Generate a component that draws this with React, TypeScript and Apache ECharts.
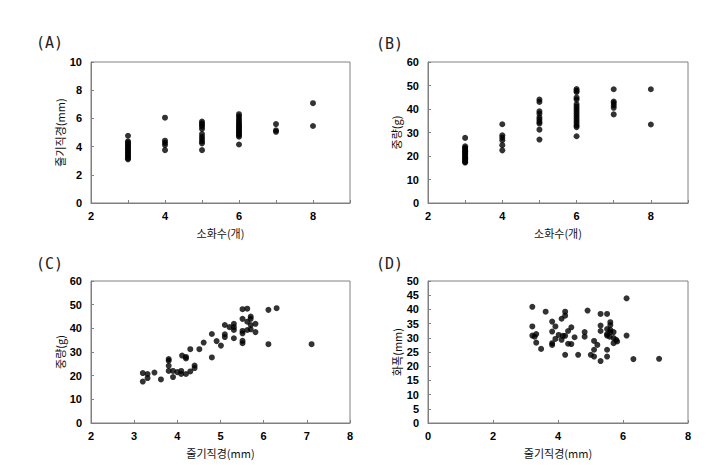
import React, { useEffect, useRef } from "react";
import * as echarts from "echarts";

// ---- Data ----
// (A) flower count vs stem diameter (mm)
const countsA = [3, 4, 5, 6, 7, 8];
const stemDiamByCount = [
  [4.77, 4.38, 4.28, 4.18, 4.08, 3.98, 3.88, 3.78, 3.68, 3.58, 3.48, 3.38, 3.28, 3.18, 3.1],
  [6.05, 4.42, 4.27, 4.11, 3.75],
  [5.77, 5.65, 5.53, 5.41, 5.25, 4.89, 4.7, 4.54, 4.37, 4.23, 3.75],
  [6.3, 6.15, 6.0, 5.85, 5.72, 5.6, 5.5, 5.4, 5.3, 5.2, 5.1, 5.0, 4.9, 4.8, 4.7, 4.15],
  [5.6, 5.15, 5.05],
  [7.08, 5.46],
];
// (B) flower count vs weight (g)
const countsB = [3, 4, 5, 6, 7, 8];
const weightByCount = [
  [27.7, 24.1, 23.5, 23.0, 22.5, 22.0, 21.5, 21.0, 20.5, 20.0, 19.5, 19.0, 18.5, 18.0, 17.5, 17.2],
  [33.5, 28.8, 27.8, 26.7, 24.6, 22.4],
  [44.0, 43.0, 39.0, 38.0, 36.5, 35.5, 34.5, 33.8, 31.2, 27.0],
  [48.5, 47.8, 47.2, 44.8, 44.0, 42.0, 41.0, 40.0, 39.0, 38.0, 37.0, 36.0, 35.0, 34.0, 33.0, 32.3, 28.4],
  [48.4, 43.2, 42.5, 41.5, 40.5, 37.7],
  [48.4, 33.4],
];
// (C) stem diameter (mm) vs weight (g)
const stemDiamC = [
  3.2, 3.2, 3.31, 3.31, 3.47, 3.62, 3.8, 3.8, 3.8, 3.8, 3.9, 3.9, 4.0, 4.09, 4.09, 4.11, 4.2, 4.2, 4.2,
  4.3, 4.3, 4.4, 4.4, 4.51, 4.61, 4.8, 4.8, 4.91, 5.01, 5.1, 5.1, 5.1, 5.21, 5.31, 5.31, 5.31, 5.31,
  5.51, 5.62, 5.51, 5.62, 5.51, 5.51, 5.51, 5.51, 5.62, 5.7, 5.7, 5.7, 5.7, 5.81, 5.81, 6.11, 6.11, 6.3, 7.11,
];
const weightC = [
  21.1, 17.5, 20.7, 19.0, 21.3, 18.4, 27.0, 26.3, 24.2, 22.0, 22.0, 19.4, 21.5, 22.0, 20.7, 28.5, 27.9, 27.3, 20.7,
  21.8, 31.2, 24.3, 23.2, 31.2, 34.0, 37.6, 27.7, 34.6, 32.7, 41.4, 37.5, 36.3, 40.5, 41.9, 40.5, 39.3, 35.8,
  48.1, 48.3, 44.0, 42.8, 38.9, 37.9, 34.7, 33.7, 39.3, 45.0, 44.0, 41.4, 39.6, 41.9, 38.4, 47.8, 33.3, 48.5, 33.3,
];
// (D) stem diameter (mm) vs flower width (mm)
const stemDiamD = [
  3.21, 3.21, 3.21, 3.28, 3.33, 3.33, 3.48, 3.62, 3.82, 3.82, 3.82, 3.82, 3.92, 3.92, 4.02, 4.11, 4.11, 4.15,
  4.22, 4.22, 4.22, 4.22, 4.31, 4.31, 4.41, 4.41, 4.51, 4.62, 4.82, 4.82, 4.91, 5.01, 5.11, 5.11, 5.11, 5.21,
  5.31, 5.31, 5.31, 5.31, 5.51, 5.51, 5.51, 5.51, 5.51, 5.51, 5.59, 5.61, 5.61, 5.61, 5.61, 5.71, 5.71, 5.71,
  5.79, 5.82, 6.11, 6.11, 6.32, 7.11,
];
const flowerWidthD = [
  40.9, 34.0, 30.8, 30.4, 31.3, 28.3, 26.1, 39.2, 35.7, 32.2, 28.1, 27.5, 34.0, 29.6, 31.0, 36.7, 29.3, 30.7,
  39.2, 37.8, 30.7, 24.0, 32.4, 27.9, 33.7, 27.8, 30.2, 24.0, 32.0, 30.4, 39.6, 24.0, 23.4, 28.9, 25.8, 27.5,
  38.4, 34.3, 32.4, 21.8, 38.4, 33.1, 31.3, 30.8, 25.8, 23.4, 30.4, 35.5, 34.5, 32.8, 32.0, 29.9, 28.1, 32.0,
  29.3, 28.7, 43.9, 30.8, 22.5, 22.6,
];

// tick labels
const xTicksAB = [2, 4, 6, 8];
const xTicksC = [2, 3, 4, 5, 6, 7, 8];
const xTicksD = [0, 2, 4, 6, 8];
const yTicksA = [0, 2, 4, 6, 8, 10];
const yTicksBC = [0, 10, 20, 30, 40, 50, 60];
const yTicksD = [0, 5, 10, 15, 20, 25, 30, 35, 40, 45, 50];

const panelLabels = ["(A)", "(B)", "(C)", "(D)"];
const xNames = ["소화수(개)", "소화수(개)", "줄기직경(mm)", "줄기직경(mm)"];
const yNames = ["줄기직경(mm)", "중량(g)", "중량(g)", "화폭(mm)"];

const groupPairs = (xs: number[], ys: number[][]) =>
  xs.flatMap((x, i) => ys[i].map((y) => [x, y]));
const zipPairs = (xs: number[], ys: number[]) => xs.map((x, i) => [x, ys[i]]);

const GRAY = "#808080";
const labelFont = "Liberation Sans";
const nameFont = "Noto Sans CJK KR";

function xAxis(gridIndex: number, min: number, max: number, interval: number, name: string, ticks: number[]) {
  return {
    type: "value",
    gridIndex,
    min,
    max,
    interval,
    name,
    nameLocation: "middle",
    nameGap: 24,
    nameTextStyle: { fontFamily: nameFont, fontSize: 11, color: "#111" },
    axisLine: { show: true, onZero: false, lineStyle: { color: GRAY } },
    axisTick: { show: true, inside: true, length: 3, lineStyle: { color: GRAY } },
    axisLabel: {
      margin: 7,
      fontFamily: labelFont,
      fontWeight: "bold",
      fontSize: 11,
      color: "#000",
      formatter: (v: number) => (ticks.includes(v) ? String(v) : ""),
    },
    splitLine: { show: false },
  };
}

function yAxis(gridIndex: number, min: number, max: number, interval: number, name: string, ticks: number[], gap: number) {
  return {
    type: "value",
    gridIndex,
    min,
    max,
    interval,
    name,
    nameLocation: "middle",
    nameGap: gap,
    nameRotate: 90,
    nameTextStyle: { fontFamily: nameFont, fontSize: 11, color: "#111" },
    axisLine: { show: true, onZero: false, lineStyle: { color: GRAY } },
    axisTick: { show: true, inside: true, length: 3, lineStyle: { color: GRAY } },
    axisLabel: {
      margin: 9,
      fontFamily: labelFont,
      fontWeight: "bold",
      fontSize: 11,
      color: "#000",
      formatter: (v: number) => (ticks.includes(v) ? String(v) : ""),
    },
    splitLine: { show: false },
  };
}

const grids = [
  { left: 91, top: 62, width: 259, height: 141 },
  { left: 428, top: 62, width: 260, height: 141 },
  { left: 91, top: 281, width: 259, height: 142 },
  { left: 428, top: 281, width: 260, height: 142 },
];
const labelPos = [
  [36, 35],
  [376, 36],
  [36, 256],
  [376, 256],
];

export default function App() {
  const ref = useRef<HTMLDivElement>(null);
  useEffect(() => {
    document.body.style.margin = "0";
    const chart = echarts.init(ref.current as HTMLDivElement, null, { renderer: "svg" });
    const seriesData = [
      groupPairs(countsA, stemDiamByCount),
      groupPairs(countsB, weightByCount),
      zipPairs(stemDiamC, weightC),
      zipPairs(stemDiamD, flowerWidthD),
    ];
    const option: any = {
      animation: false,
      backgroundColor: "#fff",
      grid: grids.map((g) => ({ ...g, show: true, borderColor: GRAY, borderWidth: 1, backgroundColor: "transparent" })),
      xAxis: [
        xAxis(0, 2, 9, 1, xNames[0], xTicksAB),
        xAxis(1, 2, 9, 1, xNames[1], xTicksAB),
        xAxis(2, 2, 8, 1, xNames[2], xTicksC),
        xAxis(3, 0, 8, 2, xNames[3], xTicksD),
      ],
      yAxis: [
        yAxis(0, 0, 10, 2, yNames[0], yTicksA, 23),
        yAxis(1, 0, 60, 10, yNames[1], yTicksBC, 27),
        yAxis(2, 0, 60, 10, yNames[2], yTicksBC, 24),
        yAxis(3, 0, 50, 5, yNames[3], yTicksD, 24),
      ],
      series: seriesData.map((d, i) => ({
        type: "scatter",
        xAxisIndex: i,
        yAxisIndex: i,
        data: d,
        symbol: "circle",
        symbolSize: 6,
        itemStyle: { color: "#000" },
      })),
      graphic: panelLabels.map((t, i) => ({
        type: "text",
        x: labelPos[i][0],
        y: labelPos[i][1],
        style: {
          text: t,
          fontFamily: "DejaVu Sans Mono",
          fontSize: 15,
          fill: "#222",
          verticalAlign: "top",
        },
      })),
    };
    chart.setOption(option);
    return () => chart.dispose();
  }, []);
  return <div ref={ref} style={{ width: 725, height: 465 }} />;
}
